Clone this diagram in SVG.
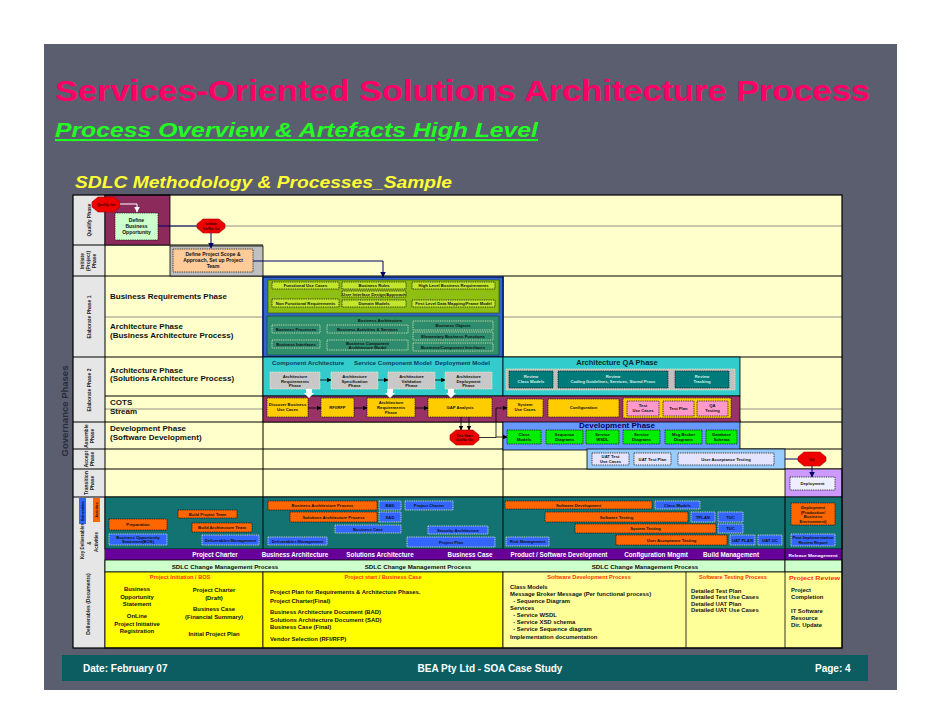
<svg xmlns="http://www.w3.org/2000/svg" width="942" height="728" viewBox="0 0 942 728">
<defs>
<marker id="ah" markerWidth="5" markerHeight="5" refX="4.5" refY="2.5" orient="auto" markerUnits="userSpaceOnUse"><path d="M0,0 L5,2.5 L0,5 z" fill="#000"/></marker>
<marker id="ahn" markerWidth="6" markerHeight="6" refX="5.5" refY="3" orient="auto" markerUnits="userSpaceOnUse"><path d="M0,0 L6,3 L0,6 z" fill="#000066"/></marker>
<marker id="ahw" markerWidth="6" markerHeight="6" refX="5.5" refY="3" orient="auto" markerUnits="userSpaceOnUse"><path d="M0,0 L6,3 L0,6 z" fill="#fff"/></marker>
<style>
text{font-family:"Liberation Sans",Arial,Helvetica,sans-serif;font-weight:bold}
.it{font-size:4.2px;text-anchor:middle;fill:#111}
.it5{font-size:5px;text-anchor:middle;fill:#111}
.itw{font-size:4.2px;text-anchor:middle;fill:#d8f0e8}
.dot{stroke:#111;stroke-width:0.8;stroke-dasharray:1 0.8}
.dotw{stroke:#f0f0c0;stroke-width:0.8;stroke-dasharray:1 0.8}
.hex{fill:#ee0000;stroke:#aa0000;stroke-width:0.6}
.hx{font-size:3.6px;text-anchor:middle;fill:#300}
.lbl{font-size:8px;fill:#111}
.rl{font-size:5px;fill:#222;text-anchor:middle}
.rs{font-size:4.5px;fill:#222;text-anchor:middle}
.rt{font-size:3.4px;text-anchor:middle}
.grid{stroke:#000;stroke-width:1}
.gl{stroke:#777;stroke-width:0.8}
.cn{stroke:#000;stroke-width:0.8;fill:none}
.cnn{stroke:#000066;stroke-width:1;fill:none}
.org{fill:#ff6600}
.blu{fill:#3366ff}
.band{font-size:6.3px;fill:#fff;text-anchor:middle}
.dh{font-size:6.2px;fill:#111;text-anchor:middle}
.dr{font-size:5.6px;fill:#ff3300;text-anchor:middle}
.drs{font-size:5.6px;fill:#ff3300}
.db{font-size:5.9px;fill:#111}
.dbc{font-size:5.9px;fill:#111;text-anchor:middle}
.ft{font-size:10px;fill:#fff}
</style>
</defs>

<rect x="0" y="0" width="942" height="728" fill="#fff"/>
<rect x="44" y="44" width="853" height="646" fill="#5b5e6f"/>

<text x="55" y="101" font-size="30" fill="#ff0066" textLength="815" lengthAdjust="spacingAndGlyphs">Services-Oriented Solutions Architecture Process</text>
<text x="55" y="137" font-size="21" font-style="italic" fill="#22ff22" text-decoration="underline" textLength="483" lengthAdjust="spacingAndGlyphs">Process Overview &amp; Artefacts High Level</text>
<text x="75" y="188" font-size="17" font-style="italic" fill="#ffff33" textLength="377" lengthAdjust="spacingAndGlyphs">SDLC Methodology &amp; Processes_Sample</text>

<g id="governance">
<text transform="translate(68,411) rotate(-90)" font-size="9.5" fill="#2a2c3a" text-anchor="middle">Governance Phases</text>
</g>

<g id="grid">
<rect x="73" y="195" width="769" height="453" fill="#ffffcc"/>
<rect x="73" y="195" width="32" height="453" fill="#e6e6e6"/>
<line class="gl" x1="170" y1="226" x2="842" y2="226"/>
<line class="gl" x1="105" y1="317" x2="842" y2="317"/>
<line class="gl" x1="105" y1="409" x2="842" y2="409"/>
<line class="grid" x1="73" y1="245" x2="263" y2="245"/>
<line class="grid" x1="73" y1="276" x2="842" y2="276"/>
<line class="grid" x1="73" y1="357" x2="842" y2="357"/>
<line class="grid" x1="105" y1="396" x2="263" y2="396"/>
<line class="grid" x1="73" y1="422" x2="842" y2="422"/>
<line class="grid" x1="73" y1="449" x2="842" y2="449"/>
<line class="grid" x1="73" y1="469" x2="842" y2="469"/>
<line class="grid" x1="73" y1="497" x2="842" y2="497"/>
<line class="grid" x1="105" y1="195" x2="105" y2="648"/>
<line class="grid" x1="263" y1="276" x2="263" y2="648"/>
<line class="grid" x1="503" y1="276" x2="503" y2="648"/>
<text class="rl" transform="translate(91,220) rotate(-90)">Qualify Phase</text>
<text class="rl" transform="translate(84,261) rotate(-90)">Initiate</text>
<text class="rl" transform="translate(90,261) rotate(-90)">(Project)</text>
<text class="rl" transform="translate(96,261) rotate(-90)">Phase</text>
<text class="rl" transform="translate(91,317) rotate(-90)">Elaborate Phase 1</text>
<text class="rl" transform="translate(91,390) rotate(-90)">Elaborate Phase 2</text>
<text class="rl" transform="translate(88,436) rotate(-90)">Assemble</text>
<text class="rl" transform="translate(94,436) rotate(-90)">Phase</text>
<text class="rl" transform="translate(88,459) rotate(-90)">Accept</text>
<text class="rl" transform="translate(94,459) rotate(-90)">Phase</text>
<text class="rl" transform="translate(88,483) rotate(-90)">Transition</text>
<text class="rl" transform="translate(94,483) rotate(-90)">Phase</text>
<text class="rl" transform="translate(90,604) rotate(-90)">Deliverables (Documents)</text>
</g>

<g id="row-labels">
<text class="lbl" x="110" y="299">Business Requirements Phase</text>
<text class="lbl" x="110" y="329">Architecture Phase</text>
<text class="lbl" x="110" y="338">(Business Architecture Process)</text>
<text class="lbl" x="110" y="373">Architecture Phase</text>
<text class="lbl" x="110" y="381">(Solutions Architecture Process)</text>
<text class="lbl" x="110" y="405">COTS</text>
<text class="lbl" x="110" y="414">Stream</text>
<text class="lbl" x="110" y="431">Development Phase</text>
<text class="lbl" x="110" y="440">(Software Development)</text>
</g>

<g id="qualify">
<rect x="105" y="195" width="65" height="50" fill="#8c2a5c" stroke="#000" stroke-width="0.8"/>
<rect x="115" y="213" width="43" height="27" fill="#ccffcc" class="dot"/>
<text class="it5" x="136.5" y="222">Define</text>
<text class="it5" x="136.5" y="228">Business</text>
<text class="it5" x="136.5" y="234">Opportunity</text>
</g>

<g id="hex-qualify">
<polygon class="hex" points="98,197 114,197 120,202 120,207 114,212 98,212 92,207 92,202"/>
<text class="hx" x="106" y="206">Qualify Go</text>
</g>
<g id="hex-initiate">
<polygon class="hex" points="203,219 219,219 225,224 225,228 219,233 203,233 197,228 197,224"/>
<text class="hx" x="211" y="225">Initiate</text>
<text class="hx" x="211" y="230">Go/No Go</text>
</g>

<g id="initiate">
<rect x="170" y="246" width="93" height="30" fill="#c0c0c0" stroke="#000" stroke-width="0.8"/>
<rect x="173" y="249" width="80" height="23" fill="#ffcc99" class="dot"/>
<text class="it5" x="213" y="256">Define Project Scope &amp;</text>
<text class="it5" x="213" y="262">Approach, Set up Project</text>
<text class="it5" x="213" y="268">Team</text>
</g>

<g id="business">
<rect x="263" y="277" width="240" height="80" fill="#3366cc" stroke="#001a66" stroke-width="1.5"/>
<rect x="268" y="280" width="231" height="33" fill="#8fbf10" stroke="#2a4a00" stroke-width="0.6"/>
<rect x="272" y="282" width="67" height="7" fill="#c2e62e" class="dot"/><text class="it" x="305.5" y="287">Functional Use Cases</text>
<rect x="342" y="282" width="64" height="7" fill="#c2e62e" class="dot"/><text class="it" x="374" y="287">Business Rules</text>
<rect x="412" y="282" width="83" height="7" fill="#c2e62e" class="dot"/><text class="it" x="453.5" y="287">High Level Business Requirements</text>
<rect x="342" y="291" width="64" height="6" fill="#c2e62e" class="dot"/><text class="it" x="374" y="295.5">User Interface Design/Approach</text>
<rect x="272" y="299" width="67" height="8" fill="#c2e62e" class="dot"/><text class="it" x="305.5" y="304.5">Non Functional Requirements</text>
<rect x="342" y="300" width="64" height="7" fill="#c2e62e" class="dot"/><text class="it" x="374" y="305">Domain Models</text>
<rect x="412" y="300" width="83" height="7" fill="#c2e62e" class="dot"/><text class="it" x="453.5" y="305">First Level Data Mapping/Frame Model</text>
<rect x="267" y="316" width="232" height="39" fill="#2f8f6a" stroke="#0a3a2a" stroke-width="0.6"/>
<text class="it" x="380" y="322">Business Architecture</text>
<rect x="272" y="325" width="48" height="8" fill="#2e8b6e" class="dotw"/><text class="it" x="296" y="330.5">Business Processes</text>
<rect x="327" y="325" width="81" height="8" fill="#2e8b6e" class="dotw"/><text class="it" x="367.5" y="330.5">Business Activities &amp; Services</text>
<rect x="413" y="321" width="80" height="9" fill="#2e8b6e" class="dotw"/><text class="it" x="453" y="327">Business Objects</text>
<rect x="413" y="332" width="80" height="8" fill="#2e8b6e" class="dotw"/><text class="it" x="453" y="337.5">Elementary Business Functions</text>
<rect x="413" y="343" width="80" height="8" fill="#2e8b6e" class="dotw"/><text class="it" x="453" y="348.5">Business/Component Interfaces</text>
<rect x="272" y="340" width="48" height="8" fill="#2e8b6e" class="dotw"/><text class="it" x="296" y="345.5">Business Interfaces</text>
<rect x="327" y="340" width="81" height="10" fill="#2e8b6e" class="dotw"/><text class="it" x="367.5" y="344.5">Business Component</text><text class="it" x="367.5" y="348.5">Architecture Model</text>
</g>

<g id="solutions">
<rect x="263" y="357" width="240" height="39" fill="#33cccc" stroke="#000" stroke-width="0.8"/>
<text x="272" y="365" font-size="6.2" fill="#0b3b5b">Component Architecture</text>
<text x="354" y="365" font-size="6.2" fill="#0b3b5b">Service Component Model</text>
<text x="435" y="365" font-size="6.2" fill="#0b3b5b">Deployment Model</text>
<rect x="270" y="372" width="50" height="17" fill="#c8c8c8" class="dotw"/><text class="it" x="295" y="378">Architecture</text><text class="it" x="295" y="382.5">Requirements</text><text class="it" x="295" y="387">Phase</text>
<rect x="331" y="372" width="47" height="17" fill="#c8c8c8" class="dotw"/><text class="it" x="354.5" y="378">Architecture</text><text class="it" x="354.5" y="382.5">Specification</text><text class="it" x="354.5" y="387">Phase</text>
<rect x="388" y="372" width="47" height="17" fill="#c8c8c8" class="dotw"/><text class="it" x="411.5" y="378">Architecture</text><text class="it" x="411.5" y="382.5">Validation</text><text class="it" x="411.5" y="387">Phase</text>
<rect x="445" y="372" width="47" height="17" fill="#c8c8c8" class="dotw"/><text class="it" x="468.5" y="378">Architecture</text><text class="it" x="468.5" y="382.5">Deployment</text><text class="it" x="468.5" y="387">Phase</text>
</g>

<g id="qa">
<rect x="503" y="357" width="237" height="39" fill="#33cccc" stroke="#000" stroke-width="0.8"/>
<text x="617" y="365" font-size="7.5" fill="#002a2a" text-anchor="middle">Architecture QA Phase</text>
<rect x="506" y="369" width="229" height="21" fill="#c0c0c0" class="dotw"/>
<rect x="509" y="371" width="44" height="17" fill="#007b7b" class="dot"/><text class="itw" x="531" y="378">Review</text><text class="itw" x="531" y="383">Class Models</text>
<rect x="558" y="371" width="110" height="17" fill="#007b7b" class="dot"/><text class="itw" x="613" y="378">Review</text><text class="itw" x="613" y="383">Coding Guidelines, Services, Stored Procs</text>
<rect x="675" y="371" width="54" height="17" fill="#007b7b" class="dot"/><text class="itw" x="702" y="378">Review</text><text class="itw" x="702" y="383">Tracking</text>
</g>

<g id="development">
<rect x="503" y="420" width="237" height="30" fill="#6699ff" stroke="#000" stroke-width="0.8"/>
<text x="617" y="428" font-size="8" fill="#000066" text-anchor="middle">Development Phase</text>
<rect x="507" y="430" width="34" height="14" fill="#00ee00" class="dot"/><text class="it" x="524" y="436">Class</text><text class="it" x="524" y="441">Models</text>
<rect x="546" y="430" width="37" height="14" fill="#00ee00" class="dot"/><text class="it" x="564.5" y="436">Sequence</text><text class="it" x="564.5" y="441">Diagrams</text>
<rect x="586" y="430" width="33" height="14" fill="#00ee00" class="dot"/><text class="it" x="602.5" y="436">Service</text><text class="it" x="602.5" y="441">WSDL</text>
<rect x="623" y="430" width="37" height="14" fill="#00ee00" class="dot"/><text class="it" x="641.5" y="436">Service</text><text class="it" x="641.5" y="441">Diagrams</text>
<rect x="665" y="430" width="37" height="14" fill="#00ee00" class="dot"/><text class="it" x="683.5" y="436">Msg Broker</text><text class="it" x="683.5" y="441">Diagrams</text>
<rect x="706" y="430" width="31" height="14" fill="#00ee00" class="dot"/><text class="it" x="721.5" y="436">Database</text><text class="it" x="721.5" y="441">Schema</text>
</g>

<g id="cots">
<rect x="263" y="396" width="477" height="26" fill="#993366" stroke="#000" stroke-width="0.8"/>
<rect x="267" y="398" width="41" height="19" fill="#ffcc00" class="dot"/><text class="it" x="287.5" y="406">Discover Business</text><text class="it" x="287.5" y="411">Use Cases</text>
<rect x="321" y="398" width="33" height="19" fill="#ffcc00" class="dot"/><text class="it" x="337.5" y="409">RFI/RFP</text>
<rect x="367" y="398" width="48" height="19" fill="#ffcc00" class="dot"/><text class="it" x="391" y="404">Architecture</text><text class="it" x="391" y="409">Requirements</text><text class="it" x="391" y="414">Phase</text>
<rect x="428" y="398" width="64" height="19" fill="#ffcc00" class="dot"/><text class="it" x="460" y="409">GAP Analysis</text>
<rect x="507" y="399" width="36" height="18" fill="#ffcc00" class="dot"/><text class="it" x="525" y="406">System</text><text class="it" x="525" y="411">Use Cases</text>
<rect x="548" y="399" width="71" height="18" fill="#ffcc00" class="dot"/><text class="it" x="583.5" y="409">Configuration</text>
<rect x="623" y="398" width="108" height="20" fill="#ffcc00" class="dot"/>
<rect x="627" y="401" width="32" height="15" fill="#ff99cc" class="dot"/><text class="it" x="643" y="407">Test</text><text class="it" x="643" y="412">Use Cases</text>
<rect x="663" y="401" width="31" height="15" fill="#ff99cc" class="dot"/><text class="it" x="678.5" y="409.5">Test Plan</text>
<rect x="697" y="401" width="31" height="15" fill="#ff99cc" class="dot"/><text class="it" x="712.5" y="407">QA</text><text class="it" x="712.5" y="412">Testing</text>
</g>

<g id="accept">
<rect x="587" y="449" width="198" height="20" fill="#99ccff" stroke="#000" stroke-width="0.8"/>
<rect x="592" y="453" width="37" height="12" fill="#e4e4ff" class="dot"/><text class="it" x="610.5" y="458">UAT Test</text><text class="it" x="610.5" y="462.5">Use Cases</text>
<rect x="634" y="453" width="37" height="12" fill="#e4e4ff" class="dot"/><text class="it" x="652.5" y="460.5">UAT Test Plan</text>
<rect x="678" y="453" width="96" height="12" fill="#e4e4ff" class="dot"/><text class="it" x="726" y="460.5">User Acceptance Testing</text>
</g>

<g id="hex-dev">
<polygon class="hex" points="456,430 473,430 479,435 479,440 473,445 456,445 450,440 450,435"/>
<text class="hx" x="464.5" y="436.5">Dev Start</text>
<text class="hx" x="464.5" y="441">Go/No Go</text>
</g>
<g id="hex-accept">
<polygon class="hex" points="804,452 820,452 826,457 826,461 820,466 804,466 798,461 798,457"/>
<text class="hx" x="812" y="460.5">Go</text>
</g>

<g id="transition">
<rect x="785" y="469" width="57" height="28" fill="#cc99ff" stroke="#000" stroke-width="0.8"/>
<rect x="790" y="477" width="45" height="13" fill="#eeeeff" class="dot"/><text class="it" x="812.5" y="485">Deployment</text>
</g>

<g id="key-deliverables">
<rect x="105" y="497" width="737" height="52" fill="#137272" stroke="#000" stroke-width="0.8"/>
<line x1="263" y1="497" x2="263" y2="549" stroke="#000" stroke-width="1"/>
<line x1="503" y1="497" x2="503" y2="549" stroke="#000" stroke-width="1"/>
<line x1="785" y1="497" x2="785" y2="560" stroke="#000" stroke-width="1"/>
<rect class="org dot" x="109" y="519" width="58" height="11"/><text class="it" x="138" y="526">Preparation</text>
<rect class="blu dotw" x="109" y="534" width="58" height="11"/><text class="it" x="138" y="538.8">Business Opportunity</text><text class="it" x="138" y="543">Statement(BOS)</text>
<rect class="org dot" x="178" y="510" width="59" height="8"/><text class="it" x="207.5" y="515.5">Build Project Team</text>
<rect class="org dot" x="192" y="523" width="60" height="9"/><text class="it" x="222" y="529">Build Architecture Team</text>
<rect class="blu dotw" x="202" y="535" width="57" height="10"/><text class="it" x="230.5" y="541.5">Deliverables Management</text>
<rect class="org dot" x="268" y="501" width="109" height="9"/><text class="it" x="322.5" y="507">Business Architecture Process</text>
<rect class="org dot" x="290" y="512" width="87" height="10"/><text class="it" x="333.5" y="518.5">Solutions Architecture Process</text>
<rect class="blu dotw" x="268" y="537" width="59" height="8"/><text class="it" x="297.5" y="542.5">Deliverables Management</text>
<rect class="blu dotw" x="335" y="525" width="66" height="8"/><text class="it" x="368" y="530.5">Business Case</text>
<rect class="blu dotw" x="379" y="501" width="22" height="9"/><text class="it" x="390" y="507">BAD</text>
<rect class="blu dotw" x="379" y="512" width="22" height="10"/><text class="it" x="390" y="518.5">SAD</text>
<rect class="blu dotw" x="405" y="501" width="48" height="9"/><text class="it" x="429" y="507">Project Charter</text>
<rect class="blu dotw" x="428" y="526" width="60" height="8"/><text class="it" x="458" y="531.5">Security Architecture</text>
<rect class="blu dotw" x="407" y="537" width="88" height="10"/><text class="it" x="451" y="543.5">Project Plan</text>
<rect class="org dot" x="505" y="501" width="147" height="8"/><text class="it" x="578.5" y="506.5">Software Development</text>
<rect class="blu dotw" x="655" y="501" width="45" height="8"/><text class="it" x="677.5" y="506.5">Class Models</text>
<rect class="org dot" x="545" y="512" width="143" height="10"/><text class="it" x="616.5" y="518.5">Software Testing</text>
<rect class="blu dotw" x="691" y="512" width="24" height="10"/><text class="it" x="703" y="518.5">TPLAN</text>
<rect class="blu dotw" x="718" y="512" width="25" height="10"/><text class="it" x="730.5" y="518.5">TUC</text>
<rect class="org dot" x="575" y="524" width="141" height="9"/><text class="it" x="645.5" y="530">System Testing</text>
<rect class="blu dotw" x="718" y="524" width="25" height="9"/><text class="it" x="730.5" y="530">TUC</text>
<rect class="blu dotw" x="506" y="537" width="43" height="9"/><text class="it" x="527.5" y="543">Risk Management</text>
<rect class="org dot" x="616" y="535" width="111" height="10"/><text class="it" x="671.5" y="541.5">User Acceptance Testing</text>
<rect class="blu dotw" x="730" y="535" width="25" height="10"/><text class="it" x="742.5" y="541.5">UAT PLAN</text>
<rect class="blu dotw" x="758" y="535" width="24" height="10"/><text class="it" x="770" y="541.5">UAT UC</text>
<rect class="org dot" x="791" y="503" width="44" height="22"/><text class="it" x="813" y="509">Deployment</text><text class="it" x="813" y="513.5">(Production/</text><text class="it" x="813" y="518">Business</text><text class="it" x="813" y="522.5">Environment)</text>
<rect class="blu dotw" x="791" y="534" width="44" height="12"/><text class="it" x="813" y="539">Post Implementation</text><text class="it" x="813" y="543.5">Review Report</text>
<rect x="105" y="549" width="737" height="11" fill="#660099"/>
<line x1="785" y1="549" x2="785" y2="560" stroke="#000" stroke-width="1"/>
<text class="band" x="215" y="557">Project Charter</text>
<text class="band" x="295" y="557">Business Architecture</text>
<text class="band" x="380" y="557">Solutions Architecture</text>
<text class="band" x="470" y="557">Business Case</text>
<text class="band" x="559" y="557">Product / Software Development</text>
<text class="band" x="656" y="557">Configuration Mngmt</text>
<text class="band" x="731" y="557">Build Management</text>
<text class="band" x="813" y="556.5" style="font-size:4.2px" textLength="49" lengthAdjust="spacingAndGlyphs">Release Management</text>
<rect class="blu" x="79" y="498" width="7" height="26"/>
<rect class="org" x="93" y="498" width="7" height="24"/>
<text class="rs" transform="translate(84,541) rotate(-90)">Key Deliverables</text>
<text class="rt" fill="#000033" transform="translate(84,511) rotate(-90)">Deliverables</text>
<text class="rs" transform="translate(91,543) rotate(-90)">&amp;</text>
<text class="rs" transform="translate(98,542) rotate(-90)">Activities</text>
<text class="rt" fill="#330000" transform="translate(98,510) rotate(-90)">Activities</text>
</g>

<g id="deliverables">
<rect x="105" y="560" width="680" height="12" fill="#ccffcc" stroke="#000" stroke-width="0.8"/>
<rect x="785" y="560" width="57" height="12" fill="#ccffcc" stroke="#000" stroke-width="0.8"/>
<rect x="105" y="572" width="158" height="76" fill="#ffff00" stroke="#000" stroke-width="0.8"/>
<rect x="263" y="572" width="240" height="76" fill="#ffff00" stroke="#000" stroke-width="0.8"/>
<rect x="503" y="572" width="339" height="76" fill="#ffff99" stroke="#000" stroke-width="0.8"/>
<line x1="686" y1="572" x2="686" y2="648" stroke="#000" stroke-width="0.8"/>
<line x1="785" y1="572" x2="785" y2="648" stroke="#000" stroke-width="0.8"/>
<text class="dh" x="225" y="568.5">SDLC Change Management Process</text>
<text class="dh" x="418" y="568.5">SDLC Change Management Process</text>
<text class="dh" x="645" y="568.5">SDLC Change Management Process</text>
<text class="dr" x="180" y="579">Project Initiation / BOS</text>
<text class="dr" x="383" y="579">Project start / Business Case</text>
<text class="dr" x="589" y="579">Software Development Process</text>
<text class="dr" x="733" y="579">Software Testing Process</text>
<text class="drs" x="789" y="580" textLength="51" lengthAdjust="spacingAndGlyphs">Project Review</text>
<text class="dbc" x="137" y="591">Business</text>
<text class="dbc" x="137" y="598.5">Opportunity</text>
<text class="dbc" x="137" y="606">Statement</text>
<text class="dbc" x="137" y="618">OnLine</text>
<text class="dbc" x="137" y="625.5">Project Initiative</text>
<text class="dbc" x="137" y="633">Registration</text>
<text class="dbc" x="214" y="592">Project Charter</text>
<text class="dbc" x="214" y="599.5">(Draft)</text>
<text class="dbc" x="214" y="611">Business Case</text>
<text class="dbc" x="214" y="618.5">(Financial Summary)</text>
<text class="dbc" x="214" y="636">Initial Project Plan</text>
<text class="db" x="270" y="594">Project Plan for Requirements &amp; Architecture Phases.</text>
<text class="db" x="270" y="603">Project Charter(Final)</text>
<text class="db" x="270" y="614">Business Architecture Document (BAD)</text>
<text class="db" x="270" y="621.5">Solutions Architecture Document (SAD)</text>
<text class="db" x="270" y="629">Business Case (Final)</text>
<text class="db" x="270" y="641">Vendor Selection (RFI/RFP)</text>
<text class="db" x="510" y="589">Class Models</text>
<text class="db" x="510" y="596">Message Broker Message (Per functional process)</text>
<text class="db" x="510" y="603" xml:space="preserve">  - Sequence Diagram</text>
<text class="db" x="510" y="610">Services</text>
<text class="db" x="510" y="617" xml:space="preserve">  - Service WSDL</text>
<text class="db" x="510" y="624" xml:space="preserve">  - Service XSD schema</text>
<text class="db" x="510" y="631" xml:space="preserve">  - Service Sequence diagram</text>
<text class="db" x="510" y="638.5">Implementation documentation</text>
<text class="db" x="691" y="593">Detailed Test Plan</text>
<text class="db" x="691" y="599">Detailed Test Use Cases</text>
<text class="db" x="691" y="606">Detailed UAT Plan</text>
<text class="db" x="691" y="612">Detailed UAT Use Cases</text>
<text class="db" x="791" y="592">Project</text>
<text class="db" x="791" y="599">Completion</text>
<text class="db" x="791" y="613">IT Software</text>
<text class="db" x="791" y="620">Resource</text>
<text class="db" x="791" y="627">Dir. Update</text>
</g>

<g id="connectors">
<polyline points="120,204 137,204 137,212" stroke="#fff" stroke-width="1" fill="none" marker-end="url(#ahw)"/>
<line class="cnn" x1="158" y1="226" x2="197" y2="226"/>
<line class="cnn" x1="211" y1="233" x2="211" y2="248" marker-end="url(#ahn)"/>
<polyline class="cnn" points="253,261 383,261 383,277" marker-end="url(#ahn)"/>
<line class="cn" x1="320" y1="380" x2="331" y2="380" marker-end="url(#ah)"/>
<line class="cn" x1="378" y1="380" x2="388" y2="380" marker-end="url(#ah)"/>
<line class="cn" x1="435" y1="380" x2="445" y2="380" marker-end="url(#ah)"/>
<polygon points="306,389 312,389 312,393 314,393 309,398 304,393 306,393" fill="#fff"/>
<polygon points="387,389 393,389 393,393 395,393 390,398 385,393 387,393" fill="#fff"/>
<polygon points="448,389 454,389 454,393 456,393 451,398 446,393 448,393" fill="#fff"/>
<line class="cn" x1="308" y1="408" x2="321" y2="408" marker-end="url(#ah)"/>
<line class="cn" x1="354" y1="408" x2="367" y2="408" marker-end="url(#ah)"/>
<line class="cn" x1="415" y1="408" x2="428" y2="408" marker-end="url(#ah)"/>
<line class="cn" x1="461" y1="417" x2="461" y2="430" marker-end="url(#ah)"/>
<line class="cn" x1="469" y1="417" x2="469" y2="430" marker-end="url(#ah)"/>
<polyline class="cn" points="479,437.5 496,437.5 496,408 507,408" marker-end="url(#ah)"/>
<line class="cn" x1="496" y1="437" x2="507" y2="437" marker-end="url(#ah)"/>
<line class="cnn" x1="785" y1="459" x2="798" y2="459"/>
<line class="cnn" x1="812" y1="466" x2="812" y2="477" marker-end="url(#ahn)"/>
</g>

<rect x="73" y="195" width="769" height="453" fill="none" stroke="#000" stroke-width="1.2"/>

<g id="footer">
<rect x="62" y="655" width="806" height="26" fill="#0b5d62"/>
<text class="ft" x="83" y="672">Date: February 07</text>
<text class="ft" x="490" y="672" text-anchor="middle">BEA Pty Ltd - SOA Case Study</text>
<text class="ft" x="815" y="672">Page: 4</text>
</g>
</svg>
